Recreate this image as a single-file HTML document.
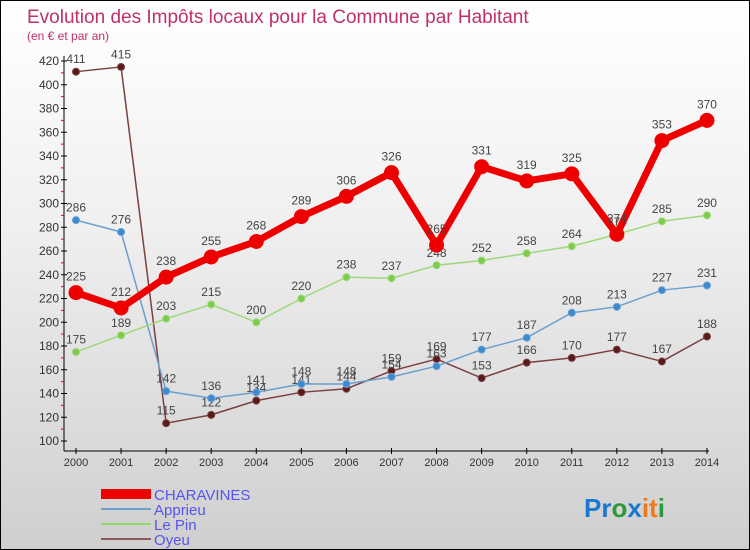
<!DOCTYPE html>
<html><head><meta charset="utf-8"><style>
html,body{margin:0;padding:0}
body{width:750px;height:550px;overflow:hidden;font-family:"Liberation Sans",sans-serif}
#wrap{position:relative;width:748px;height:548px;border:1px solid #000;background:linear-gradient(#fff 0%,#f0f0f0 40%,#cfcfcf 100%)}
</style></head><body>
<div id="wrap">
<svg id="chart" width="748" height="548" style="position:absolute;left:0;top:0">
<text x="26" y="22" font-size="19" fill="#c0306a">Evolution des Impôts locaux pour la Commune par Habitant</text>
<text x="26" y="39" font-size="12" fill="#c0306a">(en € et par an)</text>
<g id="axes"></g><g id="series"></g>
<g>
<rect x="100" y="488" width="50" height="10" fill="#e00"/>
<text x="153" y="499" font-size="15" fill="#5555ee">CHARAVINES</text>
<rect x="100" y="507" width="50" height="2" fill="#6a9fcf"/>
<text x="153" y="514" font-size="15" fill="#5555ee">Apprieu</text>
<rect x="100" y="522" width="50" height="2" fill="#8fd86a"/>
<text x="153" y="529" font-size="15" fill="#5555ee">Le Pin</text>
<rect x="100" y="537" width="50" height="2" fill="#8a5a5a"/>
<text x="153" y="544" font-size="15" fill="#5555ee">Oyeu</text>
</g>
<text x="583" y="516" font-size="26" font-weight="bold"><tspan fill="#1a78d0">Pr</tspan><tspan fill="#2a9a3a">o</tspan><tspan fill="#1a78d0">x</tspan><tspan fill="#f07818">it</tspan><tspan fill="#2a9a3a">i</tspan></text>
</svg>
</div>
<script>
const years=[2000,2001,2002,2003,2004,2005,2006,2007,2008,2009,2010,2011,2012,2013,2014];
const charavines=[225,212,238,255,268,289,306,326,265,331,319,325,274,353,370];
const apprieu=[286,276,142,136,141,148,148,154,163,177,187,208,213,227,231];
const lepin=[175,189,203,215,200,220,238,237,248,252,258,264,274,285,290];
const oyeu=[411,415,115,122,134,141,144,159,169,153,166,170,177,167,188];
const yTicks=[100,120,140,160,180,200,220,240,260,280,300,320,340,360,380,400,420];
const NS="http://www.w3.org/2000/svg";
const X=i=>75+i*45.07;
const Y=v=>440-(v-100)*1.1875;
function mk(tag,attrs,parent,name,txt){const e=document.createElementNS(NS,tag);for(const k in attrs)e.setAttribute(k,attrs[k]);


if(txt!==undefined)e.textContent=txt;parent.appendChild(e);return e;}
const ax=document.getElementById('axes');
mk('line',{x1:63,y1:55,x2:63,y2:450,stroke:'#000'},ax,'y-axis');
mk('line',{x1:63,y1:450,x2:708,y2:450,stroke:'#000'},ax,'x-axis');
yTicks.forEach(v=>{mk('line',{x1:60,x2:66,y1:Y(v),y2:Y(v),stroke:'#000'},ax,'y-tick');
mk('text',{x:58,y:Y(v)+4,'font-size':12,'text-anchor':'end',fill:'#333'},ax,'y-tick-label',v);
if(v<420)mk('line',{x1:60,x2:63,y1:Y(v+10),y2:Y(v+10),stroke:'#e00'},ax,'y-minor-tick');});
years.forEach((y,i)=>{mk('line',{x1:X(i),x2:X(i),y1:447,y2:453,stroke:'#000'},ax,'x-tick');
mk('text',{x:X(i),y:465,'font-size':11,'text-anchor':'middle',fill:'#333'},ax,'x-tick-label',y);});
const sg=document.getElementById('series');
function series(data,color,dot,w,r,name){const g=mk('g',{},sg,name+'-series');
mk('polyline',{points:data.map((v,i)=>X(i)+','+Y(v)).join(' '),fill:'none',stroke:color,'stroke-width':w,'stroke-linejoin':'round'},g,name+'-line');
data.forEach((v,i)=>{mk('circle',{cx:X(i),cy:Y(v),r:r,fill:dot,stroke:color,'stroke-width':1},g,name+'-point');
mk('text',{x:X(i),y:Y(v)-(r+5),'font-size':12,'text-anchor':'middle',fill:'#444'},g,name+'-value-label',v);});}
series(oyeu,'#7a4040','#5a1a1a',1.5,3.5,'oyeu');
series(apprieu,'#6a9fcf','#3a8ad0',1.5,3.5,'apprieu');
series(lepin,'#9ed87a','#7ccc4a',1.5,3.5,'lepin');
series(charavines,'#e00','#e00',7,7,'charavines');
</script>
</body></html>
